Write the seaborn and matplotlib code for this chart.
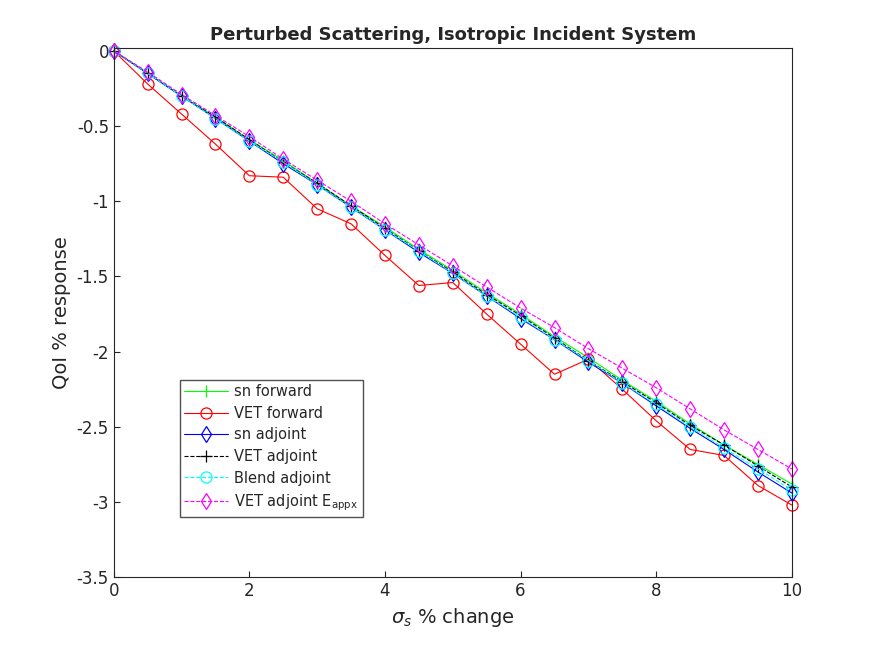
import numpy as np
import pandas as pd
import matplotlib
matplotlib.use("Agg")
import matplotlib.pyplot as plt
import seaborn as sns

sigma_change = [0, 0.5, 1, 1.5, 2, 2.5, 3, 3.5, 4, 4.5, 5, 5.5, 6, 6.5, 7, 7.5, 8, 8.5, 9, 9.5, 10]
sn_forward = [0, -0.15, -0.30, -0.44, -0.59, -0.73, -0.88, -1.03, -1.17, -1.32, -1.46, -1.61, -1.75, -1.90, -2.04, -2.19, -2.33, -2.48, -2.62, -2.75, -2.88]
vet_forward = [0, -0.22, -0.42, -0.62, -0.83, -0.84, -1.05, -1.15, -1.36, -1.56, -1.54, -1.75, -1.95, -2.15, -2.05, -2.25, -2.46, -2.65, -2.69, -2.89, -3.02]
sn_adjoint = [0, -0.15, -0.30, -0.45, -0.60, -0.75, -0.89, -1.04, -1.19, -1.34, -1.48, -1.63, -1.78, -1.92, -2.07, -2.21, -2.36, -2.51, -2.65, -2.80, -2.94]
vet_adjoint = [0, -0.15, -0.30, -0.44, -0.59, -0.74, -0.88, -1.03, -1.18, -1.33, -1.47, -1.62, -1.76, -1.91, -2.06, -2.20, -2.34, -2.49, -2.62, -2.76, -2.90]
blend_adjoint = [0, -0.15, -0.30, -0.45, -0.60, -0.74, -0.89, -1.04, -1.19, -1.33, -1.48, -1.63, -1.77, -1.92, -2.06, -2.21, -2.35, -2.50, -2.64, -2.78, -2.92]
vet_adjoint_eappx = [0, -0.14, -0.29, -0.43, -0.57, -0.72, -0.86, -1.00, -1.15, -1.29, -1.43, -1.57, -1.71, -1.84, -1.98, -2.11, -2.24, -2.38, -2.52, -2.65, -2.78]

sns.set_style("white")
plt.rcParams['font.family'] = ['DejaVu Sans']

fig = plt.figure(figsize=(8.75, 6.56), dpi=100)
ax = fig.add_axes([0.130, 0.120, 0.775, 0.807])

series = [
    (sn_forward, "sn forward", "#00ff00", "-", "|"),
    (vet_forward, "VET forward", "red", "-", "o"),
    (sn_adjoint, "sn adjoint", "blue", "-", "d"),
    (vet_adjoint, "VET adjoint", "black", "--", "+"),
    (blend_adjoint, "Blend adjoint", "cyan", "--", "o"),
    (vet_adjoint_eappx, r"VET adjoint E$_{\mathrm{appx}}$", "magenta", "--", "d"),
]
for vals, name, col, ls, mk in series:
    sns.lineplot(x=sigma_change, y=vals, ax=ax, label=name, color=col, linestyle=ls,
                 marker=mk, markersize=8, markerfacecolor="none", markeredgecolor=col,
                 markeredgewidth=0.9, linewidth=0.8, clip_on=False)

ax.set_xlim(0, 10)
ax.set_ylim(-3.5, 0.02)
ax.set_yticks([0, -0.5, -1, -1.5, -2, -2.5, -3, -3.5])
ax.set_yticklabels(["0", "-0.5", "-1", "-1.5", "-2", "-2.5", "-3", "-3.5"])
ax.set_xticks([0, 2, 4, 6, 8, 10])
ax.tick_params(labelsize=12, colors="#262626", direction="in", length=4, left=True, bottom=True)
for s in ax.spines.values():
    s.set_color("#262626")
    s.set_linewidth(0.8)
ax.set_xlabel(r"$\sigma_s$ % change", fontsize=14, color="#262626")
ax.set_ylabel("QoI % response", fontsize=14, color="#262626")
ax.set_title("Perturbed Scattering, Isotropic Incident System", fontsize=13, fontweight="bold")
ax.legend(loc="lower left", bbox_to_anchor=(0.087, 0.10), fontsize=10.5, frameon=True,
          fancybox=False, edgecolor="#262626", handlelength=3.0, handletextpad=0.4,
          borderpad=0.3, labelspacing=0.45)
fig.savefig("out.png", dpi=100)
